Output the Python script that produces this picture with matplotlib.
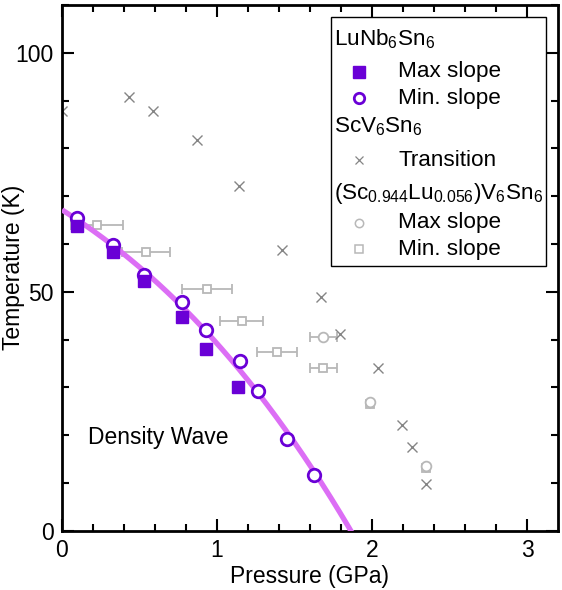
import numpy as np
import matplotlib
matplotlib.use("Agg")
import matplotlib.pyplot as plt
from matplotlib.lines import Line2D
from matplotlib.offsetbox import VPacker, HPacker, TextArea, DrawingArea, AnchoredOffsetbox

plt.rcParams["font.family"] = ["Liberation Sans", "DejaVu Sans"]
plt.rcParams["mathtext.fontset"] = "custom"
plt.rcParams["mathtext.rm"] = "Liberation Sans"
plt.rcParams["mathtext.it"] = "Liberation Sans:italic"
plt.rcParams["mathtext.default"] = "regular"

# LuNb6Sn6
lu_max_p = [0.095, 0.327, 0.531, 0.772, 0.927, 1.135]
lu_max_t = [63.7, 58.4, 52.2, 44.7, 38.0, 30.0]
lu_min_p = [0.095, 0.327, 0.531, 0.772, 0.929, 1.146, 1.265, 1.454, 1.626]
lu_min_t = [65.4, 59.8, 53.6, 47.8, 42.0, 35.6, 29.3, 19.2, 11.7]

# guide line through the phase boundary
fit_p = [0.0, 0.095, 0.32, 0.535, 0.772, 0.923, 0.998, 1.137, 1.256, 1.454, 1.626, 1.875]
fit_t = [67.5, 65.1, 59.5, 53.6, 47.0, 41.6, 39.9, 35.6, 29.3, 19.2, 11.7, 0.0]

# ScV6Sn6 transition
sc_p = [0.0, 0.432, 0.589, 0.869, 1.144, 1.421, 1.669, 1.794, 2.037, 2.195, 2.260, 2.346]
sc_t = [87.8, 90.7, 87.8, 81.8, 72.1, 58.7, 48.8, 41.2, 34.0, 22.1, 17.6, 9.8]

# (Sc0.944Lu0.056)V6Sn6
mix_max_p = [1.686, 1.99, 2.346]
mix_max_t = [40.6, 27.0, 13.6]
mix_max_err = [0.086, 0.0, 0.0]
mix_min_p = [0.228, 0.540, 0.937, 1.159, 1.385, 1.686, 1.99, 2.346]
mix_min_t = [63.9, 58.4, 50.6, 43.8, 37.3, 34.1, 26.5, 13.1]
mix_min_err = [0.168, 0.155, 0.16, 0.14, 0.13, 0.086, 0.0, 0.0]

purple = "#6a00d6"
fit_col = "#dc6ef5"
dark_gray = "#858585"
light_gray = "#b8b8b8"

fig = plt.figure(figsize=(5.62, 5.9), dpi=100)
ax = fig.add_axes([0.1103, 0.1005, 0.8826, 0.891])

# gray data first
ax.errorbar(mix_min_p, mix_min_t, xerr=mix_min_err, fmt="s", ms=6, mfc="white",
            mec=light_gray, mew=1.3, ecolor=light_gray, elinewidth=1.3, capsize=3.5, zorder=2)
ax.errorbar(mix_max_p, mix_max_t, xerr=mix_max_err, fmt="o", ms=7, mfc="white",
            mec=light_gray, mew=1.3, ecolor=light_gray, elinewidth=1.3, capsize=3.5, zorder=2)
ax.plot(sc_p, sc_t, "x", ms=7, mew=1.0, color=dark_gray, zorder=2)

# smooth guide line
coef = np.polyfit(fit_p, fit_t, 3)
pp = np.linspace(0, 1.95, 200)
ax.plot(pp, np.polyval(coef, pp), color=fit_col, lw=3.8, zorder=3, solid_capstyle="butt")

ax.plot(lu_min_p, lu_min_t, "o", ms=9, mfc="white", mec=purple, mew=2.0, zorder=4)
ax.plot(lu_max_p, lu_max_t, "s", ms=8, color=purple, zorder=5)

ax.text(0.17, 19.4, "Density Wave", fontsize=16.5, va="center", ha="left")

ax.set_xlim(0, 3.2)
ax.set_ylim(0, 110)
ax.set_xticks([0, 1, 2, 3])
ax.set_yticks([0, 50, 100])
ax.set_xticks(np.arange(0, 3.2, 0.2), minor=True)
ax.set_yticks(np.arange(0, 111, 10), minor=True)
ax.tick_params(which="both", direction="in", top=True, right=True, labelsize=16.5, width=1.5)
ax.tick_params(which="major", length=8.5, pad=6)
ax.tick_params(which="minor", length=5)
for s in ax.spines.values():
    s.set_linewidth(2)
ax.set_xlabel("Pressure (GPa)", fontsize=16.5, labelpad=2)
ax.set_ylabel("Temperature (K)", fontsize=16.5)
ax.yaxis.set_label_coords(-0.075, 0.5)

# legend with section titles; last value is the row height in points
fs = 16.2
rows = [
    ("title", "LuNb$_6$Sn$_6$", None, 27.4),
    ("entry", "Max slope", dict(marker="s", ms=8, color=purple, ls="none"), 19.1),
    ("entry", "Min. slope", dict(marker="o", ms=7.5, mfc="white", mec=purple, mew=2.0, ls="none"), 19.1),
    ("title", "ScV$_6$Sn$_6$", None, 22.3),
    ("entry", "Transition", dict(marker="x", ms=6, mew=0.9, color=dark_gray, ls="none"), 25.9),
    ("title", "(Sc$_{0.944}$Lu$_{0.056}$)V$_6$Sn$_6$", None, 22.3),
    ("entry", "Max slope", dict(marker="o", ms=6, mfc="white", mec=light_gray, mew=1.1, ls="none"), 19.1),
    ("entry", "Min. slope", dict(marker="s", ms=5.5, mfc="white", mec=light_gray, mew=1.1, ls="none"), 19.7),
]
boxes = []
for kind, label, style, h in rows:
    txt = TextArea(label, textprops=dict(fontsize=fs))
    if kind == "title":
        spacer = DrawingArea(0, h, 0, 0)
        boxes.append(HPacker(children=[spacer, txt], align="center", pad=0, sep=0))
    else:
        da = DrawingArea(40, h, 0, 0)
        da.add_artist(Line2D([18.4], [h / 2], **style))
        boxes.append(HPacker(children=[da, txt], align="center", pad=0, sep=6.3))
vp = VPacker(children=boxes, align="left", pad=0, sep=0)
anch = AnchoredOffsetbox(loc="upper right", child=vp, pad=0.13, borderpad=0, frameon=True,
                         prop=dict(size=fs), bbox_to_anchor=(0.9752, 0.9766),
                         bbox_transform=ax.transAxes)
anch.patch.set_boxstyle("square", pad=0)
anch.patch.set_edgecolor("black")
anch.patch.set_linewidth(1.0)
ax.add_artist(anch)

fig.savefig("out.png", dpi=100)
